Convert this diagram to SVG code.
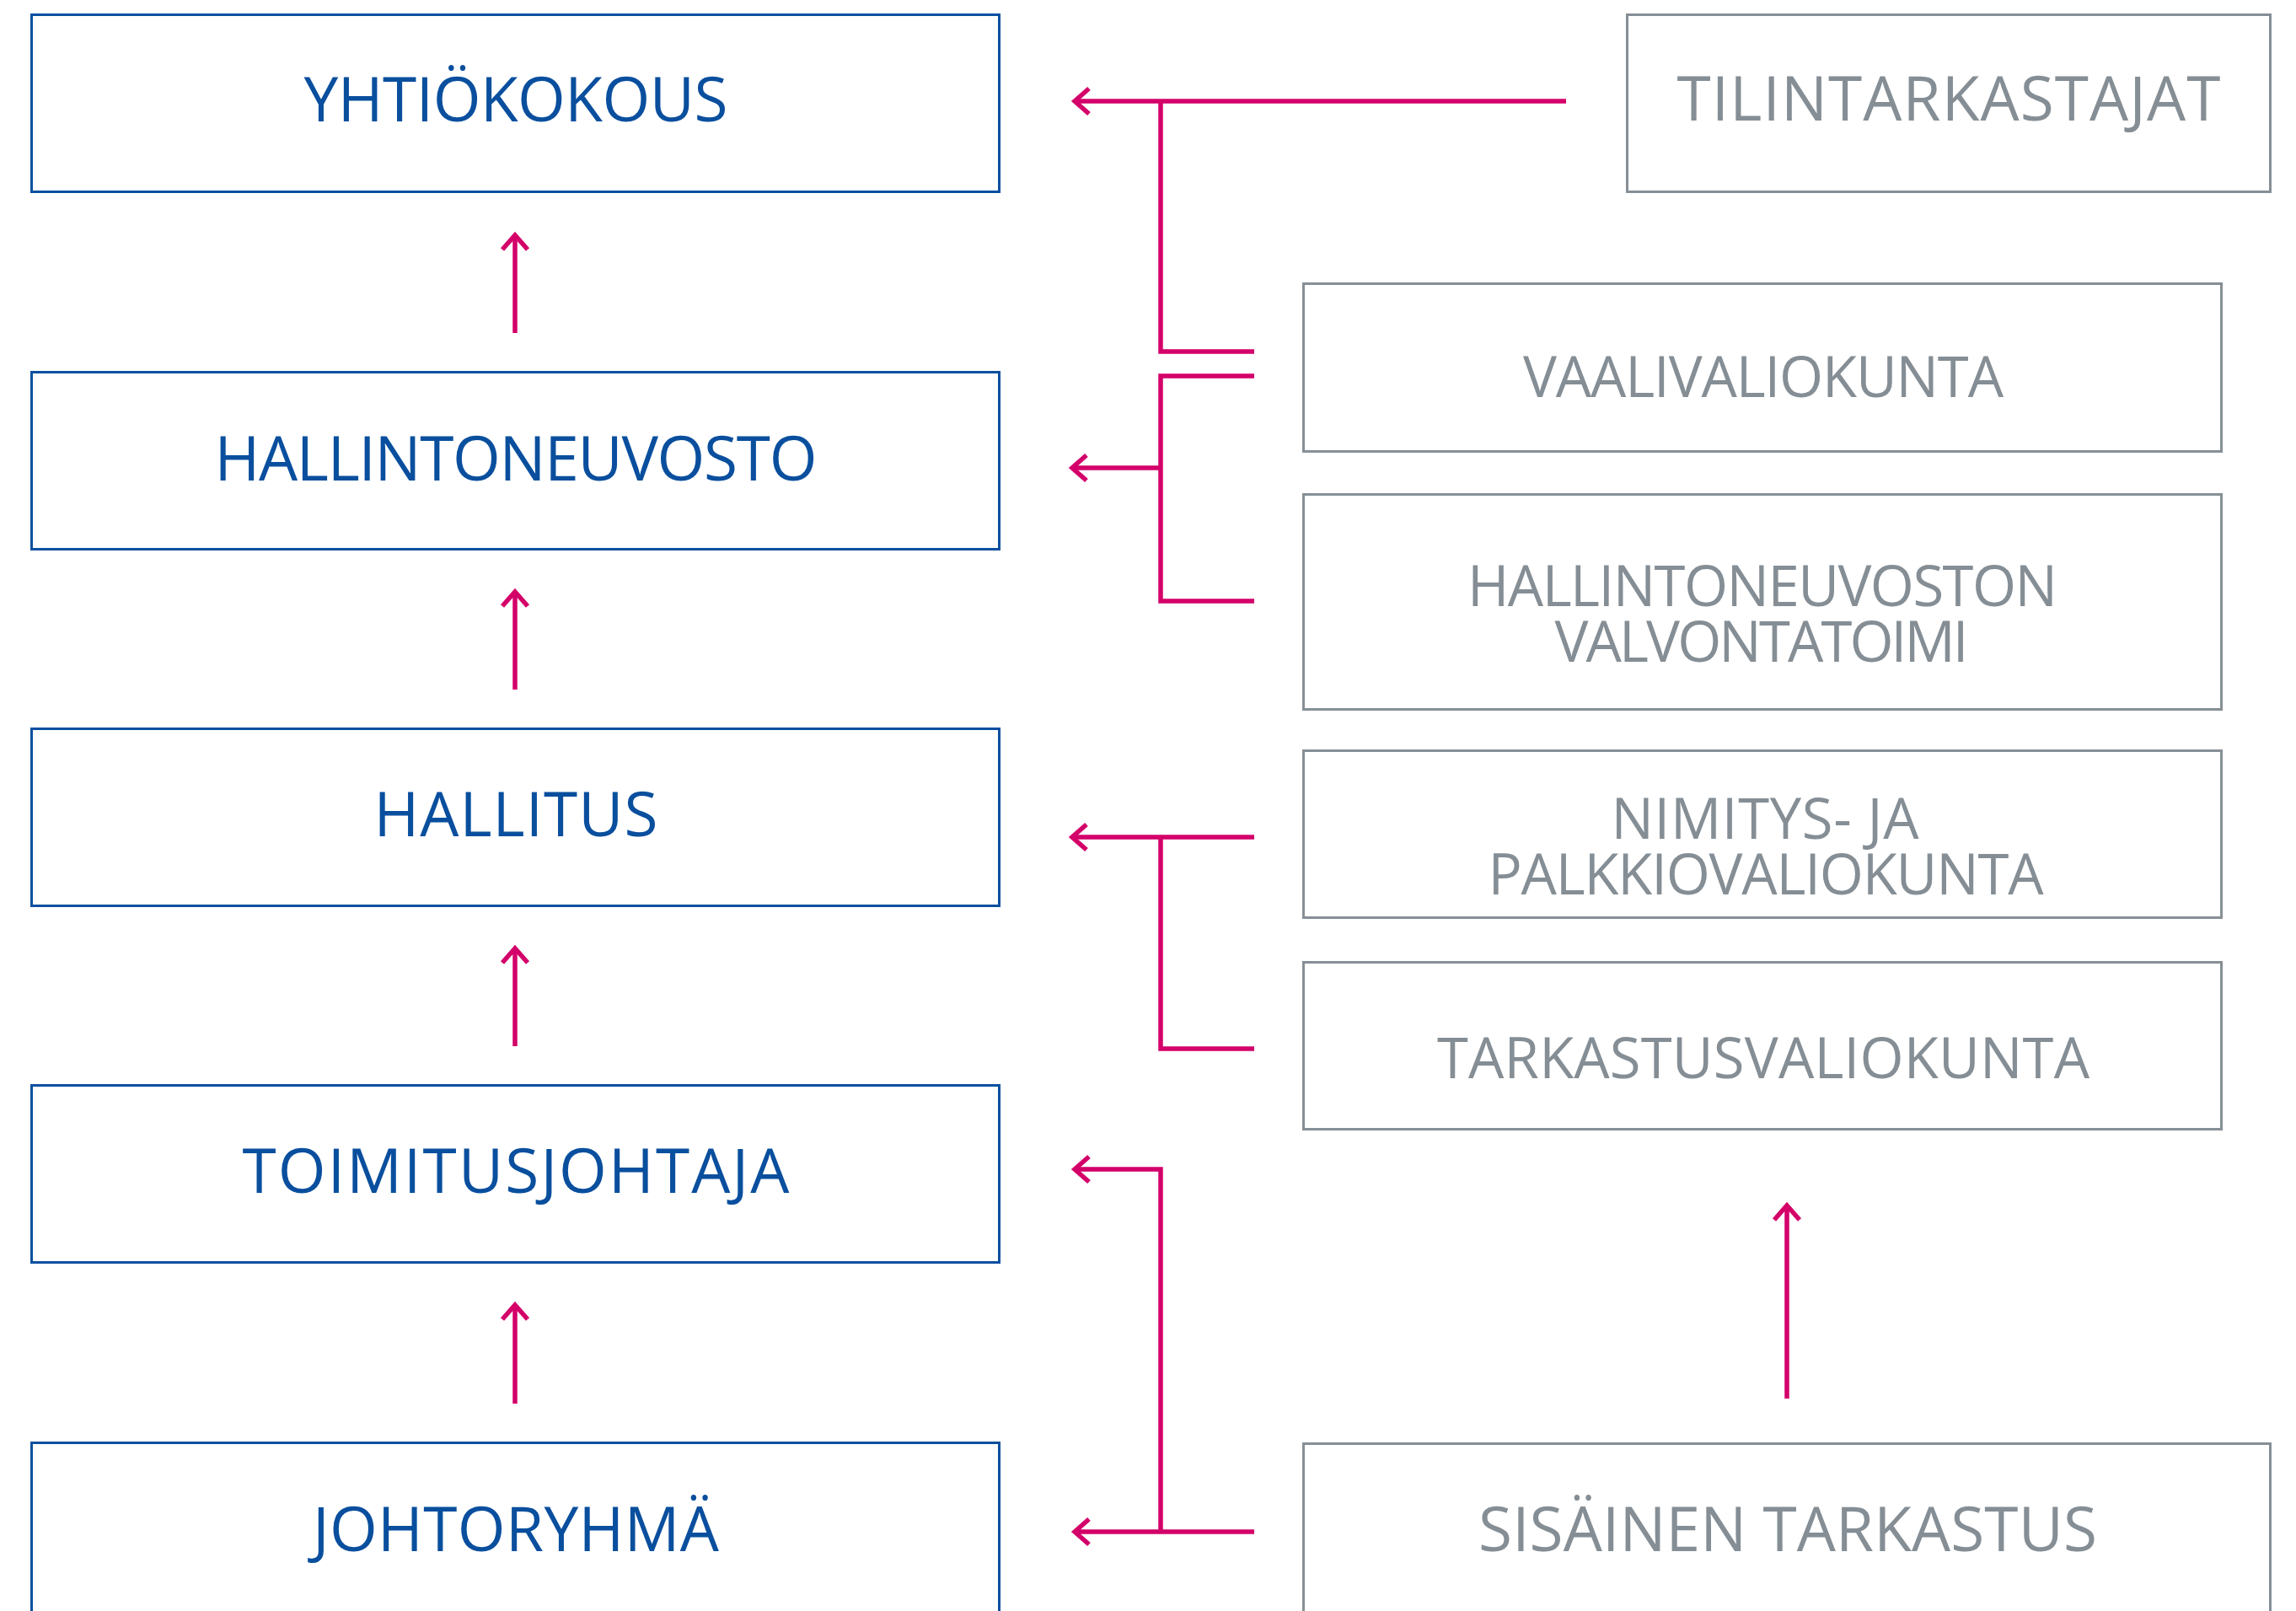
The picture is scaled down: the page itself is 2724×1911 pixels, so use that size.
<svg xmlns="http://www.w3.org/2000/svg" width="2724" height="1911" viewBox="0 0 2724 1911">
<style>
.bbox{fill:#ffffff;stroke:#0a50a0;stroke-width:3}
.gbox{fill:#ffffff;stroke:#868f96;stroke-width:3}
.bt{font-family:"Open Sans","Noto Sans",sans-serif;font-size:73px;fill:#0a4f9e;text-anchor:middle}
.gt{font-family:"Open Sans","Noto Sans",sans-serif;font-size:67px;fill:#858e95;text-anchor:middle}
.gl{font-size:73px}
.c{fill:none;stroke:#d4006a;stroke-width:5.5;stroke-linejoin:miter;stroke-linecap:butt}
</style>
<defs>
<marker id="ah" markerUnits="userSpaceOnUse" viewBox="-24 -20 30 40" refX="0" refY="0" markerWidth="30" markerHeight="40" orient="auto" overflow="visible">
<path d="M-17,-15 L0,0 L-17,15" fill="none" stroke="#d4006a" stroke-width="5.5" stroke-linejoin="miter"/>
</marker>
</defs>
<rect width="2724" height="1911" fill="#ffffff"/>
<g id="yhtiokokous"><rect class="bbox" x="37.5" y="17.5" width="1148" height="210"/><text class="bt" x="612" y="144" textLength="503" lengthAdjust="spacing">YHTIÖKOKOUS</text></g>
<g id="hallintoneuvosto"><rect class="bbox" x="37.5" y="441.5" width="1148" height="210"/><text class="bt" x="612" y="570" textLength="715" lengthAdjust="spacing">HALLINTONEUVOSTO</text></g>
<g id="hallitus"><rect class="bbox" x="37.5" y="864.5" width="1148" height="210"/><text class="bt" x="612" y="992" textLength="337" lengthAdjust="spacing">HALLITUS</text></g>
<g id="toimitusjohtaja"><rect class="bbox" x="37.5" y="1287.5" width="1148" height="210"/><text class="bt" x="612" y="1415" textLength="649" lengthAdjust="spacing">TOIMITUSJOHTAJA</text></g>
<g id="johtoryhma"><rect class="bbox" x="37.5" y="1711.5" width="1148" height="220"/><text class="bt" x="612" y="1840" textLength="482" lengthAdjust="spacing">JOHTORYHMÄ</text></g>
<g id="tilintarkastajat"><rect class="gbox" x="1930.5" y="17.5" width="763" height="210"/><text class="gt gl" x="2312" y="143" textLength="645" lengthAdjust="spacing">TILINTARKASTAJAT</text></g>
<g id="vaalivaliokunta"><rect class="gbox" x="1546.5" y="336.5" width="1089" height="199"/><text class="gt" x="2092" y="471" textLength="570" lengthAdjust="spacing">VAALIVALIOKUNTA</text></g>
<g id="hnvalvontatoimi"><rect class="gbox" x="1546.5" y="586.5" width="1089" height="255"/><text class="gt"><tspan x="2091" y="719" textLength="700" lengthAdjust="spacing">HALLINTONEUVOSTON</tspan><tspan x="2090" y="785" textLength="491" lengthAdjust="spacing">VALVONTATOIMI</tspan></text></g>
<g id="nimitysvaliokunta"><rect class="gbox" x="1546.5" y="890.5" width="1089" height="198"/><text class="gt"><tspan x="2094" y="995" textLength="365" lengthAdjust="spacing">NIMITYS- JA</tspan><tspan x="2095" y="1061" textLength="659" lengthAdjust="spacing">PALKKIOVALIOKUNTA</tspan></text></g>
<g id="tarkastusvaliokunta"><rect class="gbox" x="1546.5" y="1141.5" width="1089" height="198"/><text class="gt" x="2092" y="1279" textLength="774" lengthAdjust="spacing">TARKASTUSVALIOKUNTA</text></g>
<g id="sisainentarkastus"><rect class="gbox" x="1546.5" y="1712.5" width="1147" height="220"/><text class="gt gl" x="2121" y="1840" textLength="734" lengthAdjust="spacing">SISÄINEN TARKASTUS</text></g>
<g id="connectors">
<path class="c" d="M611,395 V279" marker-end="url(#ah)"/>
<path class="c" d="M611,818 V702" marker-end="url(#ah)"/>
<path class="c" d="M611,1241 V1125" marker-end="url(#ah)"/>
<path class="c" d="M611,1665 V1548" marker-end="url(#ah)"/>
<path class="c" d="M2120,1659 V1430" marker-end="url(#ah)"/>
<path class="c" d="M1858,120 H1275" marker-end="url(#ah)"/>
<path class="c" d="M1488,417 H1377 V120"/>
<path class="c" d="M1488,446 H1377 V713 H1488"/>
<path class="c" d="M1377,555 H1272" marker-end="url(#ah)"/>
<path class="c" d="M1488,993 H1272" marker-end="url(#ah)"/>
<path class="c" d="M1377,993 V1244 H1488"/>
<path class="c" d="M1488,1817 H1275" marker-end="url(#ah)"/>
<path class="c" d="M1377,1817 V1387 H1275" marker-end="url(#ah)"/>
</g>
</svg>
